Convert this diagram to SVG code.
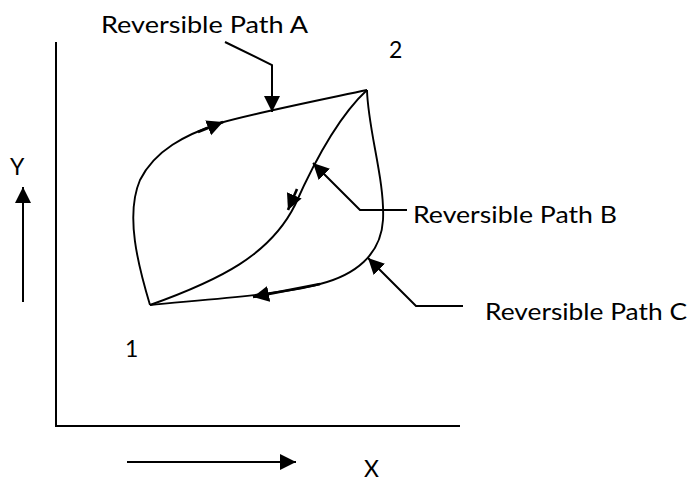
<svg xmlns="http://www.w3.org/2000/svg" width="691" height="483" viewBox="0 0 691 483">
<defs>
<marker id="ah" markerUnits="userSpaceOnUse" markerWidth="17" markerHeight="17" refX="16" refY="8" orient="auto">
<path d="M0,0 L16,8 L0,16 z" fill="#000"/>
</marker>
</defs>
<style>
.t{font-family:Lato,"Open Sans",sans-serif;font-size:23px;fill:#000}
.ax{stroke:#000;stroke-width:2;fill:none}
.c{stroke:#000;stroke-width:1.9;fill:none}
.ld{stroke:#000;stroke-width:2;fill:none}
.ar{stroke:#000;stroke-width:2.6;fill:none;marker-end:url(#ah)}
</style>
<rect width="691" height="483" fill="#fff"/>
<g id="axes">
<path class="ax" d="M56,42 L56,426 L460,426"/>
</g>
<g id="connectors">
<path id="pathA" class="c" d="M150,305 C138,265 125,215 140,180 C155,150 185,135 220,123 C255,113 320,100 367,90"/>
<path id="pathB" class="c" d="M367,90 C340,115 315,160 295,205 C270,255 220,280 150,305"/>
<path id="pathC" class="c" d="M367,90 C368,130 385,180 383,220 C381,255 355,275 320,284 C280,295 200,300 150,305"/>
<path class="ar" d="M198,132 L223,122"/>
<path class="ar" d="M297,189 L288,210"/>
<path class="ar" d="M320,284 L253,297"/>
<path class="ld" d="M225,42 L272,65 L272,112" marker-end="url(#ah)"/>
<path class="ld" d="M407,210 L360,210 L313,163" marker-end="url(#ah)"/>
<path class="ld" d="M463,306 L416,306 L368,258" marker-end="url(#ah)"/>
<path class="ax" d="M23,302 L23,187" marker-end="url(#ah)"/>
<path class="ax" d="M127,462 L296,462" marker-end="url(#ah)"/>
</g>
<g id="label-A"><text class="t" x="101" y="33" textLength="207" lengthAdjust="spacingAndGlyphs">Reversible Path A</text></g>
<g id="label-B"><text class="t" x="413" y="223" textLength="204" lengthAdjust="spacingAndGlyphs">Reversible Path B</text></g>
<g id="label-C"><text class="t" x="485" y="320" textLength="202" lengthAdjust="spacingAndGlyphs">Reversible Path C</text></g>
<g id="state-2"><text class="t" x="389" y="58">2</text></g>
<g id="state-1"><text class="t" x="125" y="357">1</text></g>
<g id="label-Y"><text class="t" x="10" y="175">Y</text></g>
<g id="label-X"><text class="t" x="364" y="477">X</text></g>
</svg>
